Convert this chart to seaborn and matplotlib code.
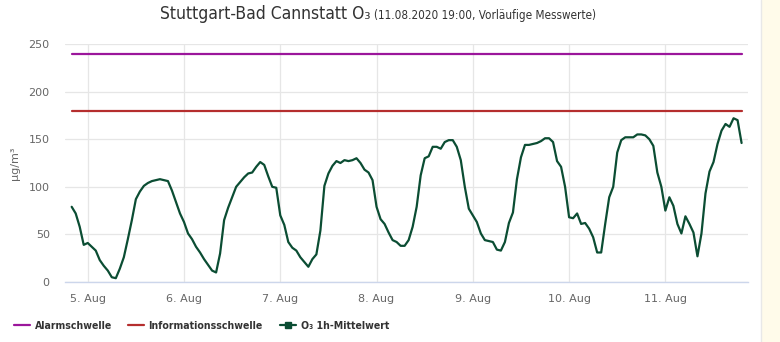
import numpy as np
import pandas as pd
import matplotlib
matplotlib.use("Agg")
import matplotlib.pyplot as plt
import matplotlib.dates as mdates
from matplotlib.lines import Line2D
from matplotlib.patches import Rectangle
import seaborn as sns

# Hourly O3 means, Stuttgart-Bad Cannstatt, 04.08.2020 20:00 - 11.08.2020 19:00 (µg/m³)
start_time = "2020-08-04 20:00"
o3_values = [
    79, 72, 58, 39, 41, 37, 33, 23, 17, 12, 5, 4, 14, 26, 45, 65, 87, 95, 101, 104,
    106, 107, 108, 107, 106, 96, 84, 72, 63, 51, 45, 37, 31, 24, 18, 12, 10, 30, 65, 78,
    89, 100, 105, 110, 114, 115, 121, 126, 123, 111, 100, 99, 70, 60, 42, 36, 33, 26, 21, 16,
    24, 29, 54, 101, 114, 122, 127, 125, 128, 127, 128, 130, 125, 118, 115, 107, 79, 66, 61, 52,
    44, 42, 38, 38, 44, 58, 79, 112, 130, 132, 142, 142, 140, 147, 149, 149, 142, 128, 100, 77,
    70, 63, 51, 44, 43, 42, 34, 33, 42, 62, 73, 108, 131, 144, 144, 145, 146, 148, 151, 151,
    147, 127, 121, 100, 68, 67, 72, 61, 62, 56, 47, 31, 31, 61, 89, 100, 136, 149, 152, 152,
    152, 155, 155, 154, 150, 143, 115, 100, 75, 89, 80, 61, 51, 69, 61, 52, 27, 51, 93, 116,
    126, 145, 159, 166, 163, 172, 170, 146,
]
alarm_level = 240
info_level = 180

series_names = ["Alarmschwelle", "Informationsschwelle", "O\u2083 1h-Mittelwert"]
series_colors = ["#9b169b", "#b52e2e", "#0b4d33"]
y_ticks = [0, 50, 100, 150, 200, 250]

times = pd.date_range(start_time, periods=len(o3_values), freq="h")
df = pd.DataFrame({
    "time": times,
    "o3": o3_values,
    "alarm": [alarm_level] * len(times),
    "info": [info_level] * len(times),
})

sns.set_theme(style="white")
plt.rcParams["font.family"] = ["DejaVu Sans"]

W, H = 780, 342
fig = plt.figure(figsize=(W / 100, H / 100), dpi=100)
fig.patch.set_facecolor("white")

# side panel on the right edge
fig.patches.append(Rectangle((761 / W, 0), 1 - 761 / W, 1, transform=fig.transFigure,
                             facecolor="#fffbea", edgecolor="none", zorder=0))
fig.lines.append(Line2D([761 / W, 761 / W], [0, 1], transform=fig.transFigure,
                        color="#e8e8e8", lw=1))

ax = fig.add_axes([65 / W, 1 - 282 / H, (748 - 65) / W, (282 - 44) / H])
ax.set_facecolor("white")

sns.lineplot(data=df, x="time", y="alarm", ax=ax, color=series_colors[0], lw=1.6, zorder=3)
sns.lineplot(data=df, x="time", y="info", ax=ax, color=series_colors[1], lw=1.6, zorder=3)
sns.lineplot(data=df, x="time", y="o3", ax=ax, color=series_colors[2], lw=1.6, zorder=4)

ax.set_ylim(0, 250)
ax.set_yticks(y_ticks)
ax.set_xlim(pd.Timestamp("2020-08-04 18:20"), pd.Timestamp("2020-08-11 20:36"))
ax.xaxis.set_major_locator(mdates.DayLocator())
ax.xaxis.set_major_formatter(mdates.DateFormatter("%-d. Aug"))

ax.grid(True, axis="both", color="#e6e6e6", lw=0.9)
ax.set_axisbelow(True)
for side in ["top", "right", "left"]:
    ax.spines[side].set_visible(False)
ax.spines["bottom"].set_color("#ccd6eb")
ax.spines["bottom"].set_linewidth(1)
ax.spines["bottom"].set_zorder(2)

ax.tick_params(axis="y", length=0, pad=11, labelsize=8, labelcolor="#666666")
ax.tick_params(axis="x", length=7, width=0.9, color="#ccd6eb", pad=2,
               labelsize=8, labelcolor="#666666")
ax.set_xlabel("")
ax.set_ylabel("µg/m³", fontsize=8, color="#666666", labelpad=6)

# title in two parts
fig.text(370 / W, 1 - 19 / H, "Stuttgart-Bad Cannstatt O\u2083", ha="right", va="baseline",
         fontsize=12.5, fontstretch="condensed", color="#333333")
fig.text(374 / W, 1 - 19 / H, "(11.08.2020 19:00, Vorläufige Messwerte)", ha="left",
         va="baseline", fontsize=8.4, fontstretch="condensed", color="#333333")

handles = [
    Line2D([], [], color=series_colors[0], lw=1.6),
    Line2D([], [], color=series_colors[1], lw=1.6),
    Line2D([], [], color=series_colors[2], lw=1.6, marker="s", markersize=5),
]
# one legend entry per position along the bottom
legend_x = [14, 128, 280]
for handle, name, lx in zip(handles, series_names, legend_x):
    leg = fig.legend([handle], [name], loc="center left", bbox_to_anchor=(lx / W, 1 - 326 / H),
                     frameon=False, handlelength=1.55, handletextpad=0.4, borderpad=0,
                     borderaxespad=0,
                     prop={"weight": "bold", "size": 7.6, "stretch": "condensed"},
                     labelcolor="#333333")

fig.savefig("out.png", dpi=100)
